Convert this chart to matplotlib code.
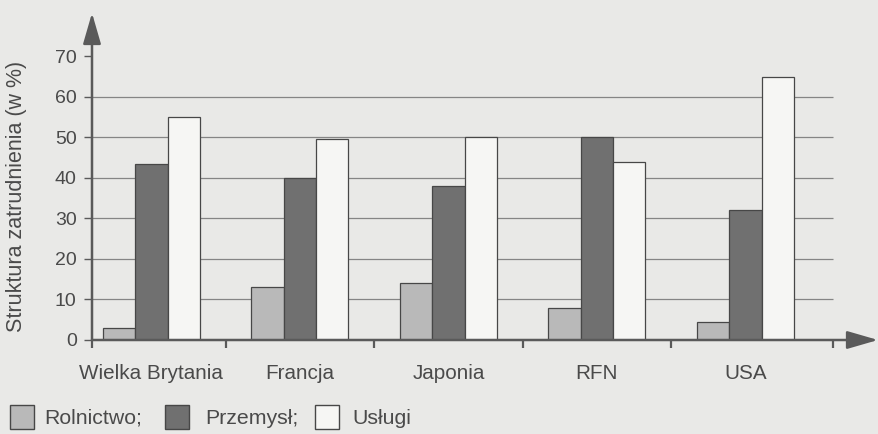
import numpy as np
import matplotlib
matplotlib.use("Agg")
import matplotlib.pyplot as plt
from matplotlib.patches import Rectangle, ArrowStyle

# data (employment structure, %)
countries = ["Wielka Brytania", "Francja", "Japonia", "RFN", "USA"]
sectors = ["Rolnictwo;", "Przemysł;", "Usługi"]
rolnictwo = [3, 13, 14, 8, 4.5]
przemysl = [43.5, 40, 38, 50, 32]
uslugi = [55, 49.5, 50, 44, 65]
yticks = [0, 10, 20, 30, 40, 50, 60, 70]
grid_levels = [10, 20, 30, 40, 50, 60]

W, H = 879, 434
BG = "#e9e9e7"
TXT = "#4a4a4a"
EDGE = "#474747"
AXC = "#5a5a5a"
colors = ["#b9b9b9", "#707070", "#f6f6f4"]

plt.rcParams["font.family"] = ["Liberation Sans", "DejaVu Sans"]

fig = plt.figure(figsize=(W / 100, H / 100), dpi=100, facecolor=BG)
# axes box in pixels: y-axis at x=92, zero line at y=340, arrow tips at x=878 / y=13
ax = fig.add_axes([92 / W, (H - 340) / H, (878 - 92) / W, (340 - 13) / H])
ax.set_facecolor("none")
x0, x1 = -0.40, 4.893
ax.set_xlim(x0, x1)
ax.set_ylim(0, 80.7)
for s in ax.spines.values():
    s.set_visible(False)

# horizontal guide lines
ax.hlines(grid_levels, x0, 4.59, color="#858585", lw=0.9, zorder=1)

# bars
x = np.arange(len(countries))
w = 0.218
for k, (vals, c) in enumerate(zip([rolnictwo, przemysl, uslugi], colors)):
    ax.bar(x + (k - 1) * w, vals, width=w, color=c, edgecolor=EDGE,
           linewidth=0.9, zorder=2)

# axis lines with arrow heads
style = ArrowStyle("-|>", head_length=19, head_width=5.5)
for xy, xytext in [((x0, 80.7), (x0, 0)), ((x1, 0), (x0, 0))]:
    ax.annotate("", xy=xy, xytext=xytext, xycoords="data",
                arrowprops=dict(arrowstyle=style, mutation_scale=1, color=AXC,
                                lw=1.8, shrinkA=0, shrinkB=0),
                annotation_clip=False, zorder=3)

# ticks
ax.set_yticks(yticks)
ax.set_yticklabels([str(t) for t in yticks])
ax.tick_params(axis="y", length=6, width=1, color=AXC, pad=5,
               labelsize=14, labelcolor=TXT)
ax.set_xticks(x)
ax.set_xticklabels(countries)
ax.tick_params(axis="x", which="major", length=0, pad=17,
               labelsize=14.9, labelcolor=TXT)
ax.set_xticks([x0, 0.5, 1.5, 2.5, 3.5, 4.59], minor=True)
ax.tick_params(axis="x", which="minor", length=6, width=1.6, color=AXC,
               direction="out")

ax.set_ylabel("Struktura zatrudnienia (w %)", fontsize=15.5, color=TXT)
ax.yaxis.set_label_coords(-65 / 786, 0.44)


def fx(px):
    return px / W


def fy(py):
    return 1 - py / H


# legend drawn below the plot
sq_x = [10, 165, 315]
tx_x = [44, 205, 352]
for sx, tx, lab, c in zip(sq_x, tx_x, sectors, colors):
    fig.patches.append(Rectangle((fx(sx), fy(429)), 24 / W, 24 / H,
                                 transform=fig.transFigure, facecolor=c,
                                 edgecolor=EDGE, linewidth=1.0))
    fig.text(fx(tx), fy(418), lab, fontsize=15.3, color=TXT, va="center",
             ha="left")

fig.savefig("out.png", dpi=100, facecolor=BG)
